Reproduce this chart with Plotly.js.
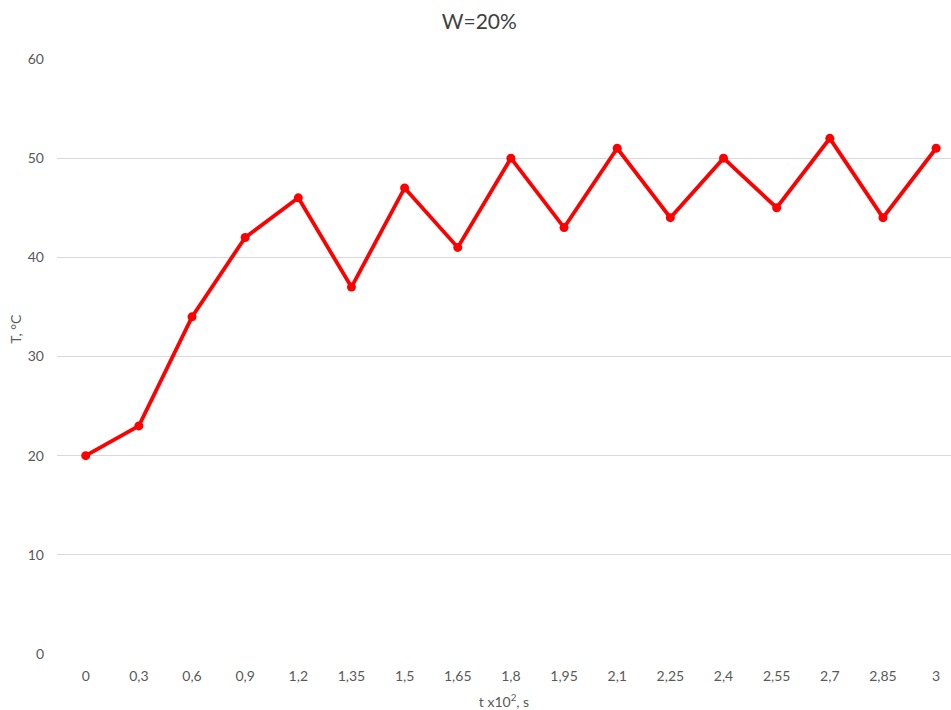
<!DOCTYPE html>
<html>
<head>
<meta charset="utf-8">
<script src="https://cdn.plot.ly/plotly-3.0.1.min.js"></script>
<style>html,body{margin:0;padding:0;background:#fff;overflow:hidden}#chart{width:951px;height:710px}</style>
</head>
<body>
<div id="chart"></div>
<script>
const categories = ["0","0,3","0,6","0,9","1,2","1,35","1,5","1,65","1,8","1,95","2,1","2,25","2,4","2,55","2,7","2,85","3"];
const temperature = [20,23,34,42,46,37,47,41,50,43,51,44,50,45,52,44,51];
const yTicks = [0,10,20,30,40,50,60];

const font = "Lato, 'Open Sans', sans-serif";

Plotly.newPlot('chart', [{
  type: 'scatter',
  mode: 'lines+markers',
  x: categories,
  y: temperature,
  line: {color: '#FF0000', width: 3.8},
  marker: {color: '#FF0000', size: 9},
  showlegend: false
}], {
  width: 951,
  height: 710,
  margin: {l: 57, r: 0, t: 59, b: 56},
  paper_bgcolor: '#ffffff',
  plot_bgcolor: '#ffffff',
  font: {family: font, color: '#595959', size: 14},
  title: {text: 'W=20%', x: 0.504, xref: 'container', y: 0.969, yref: 'container', yanchor: 'middle',
          font: {family: font, size: 21, color: '#404040'}},
  xaxis: {
    type: 'category',
    range: [-0.54, 16.28],
    showgrid: false,
    zeroline: false,
    showline: false,
    ticks: '',
    ticklabelstandoff: 12,
    tickfont: {size: 14, color: '#595959'},
    title: {text: 't x10<sup>2</sup>, s', standoff: 15, font: {size: 14, color: '#595959'}}
  },
  yaxis: {
    range: [0, 60],
    tickvals: yTicks,
    showgrid: true,
    gridcolor: '#d9d9d9',
    gridwidth: 1,
    zeroline: false,
    showline: false,
    ticks: '',
    ticklabelstandoff: 12,
    tickfont: {size: 14, color: '#595959'}
  },
  annotations: [{
    text: 'T, °C', textangle: -90, showarrow: false,
    xref: 'paper', yref: 'paper', x: -0.0466, y: 0.547,
    xanchor: 'center', yanchor: 'middle',
    font: {family: font, size: 14, color: '#595959'}
  }]
}, {displayModeBar: false, staticPlot: true});
</script>
</body>
</html>
